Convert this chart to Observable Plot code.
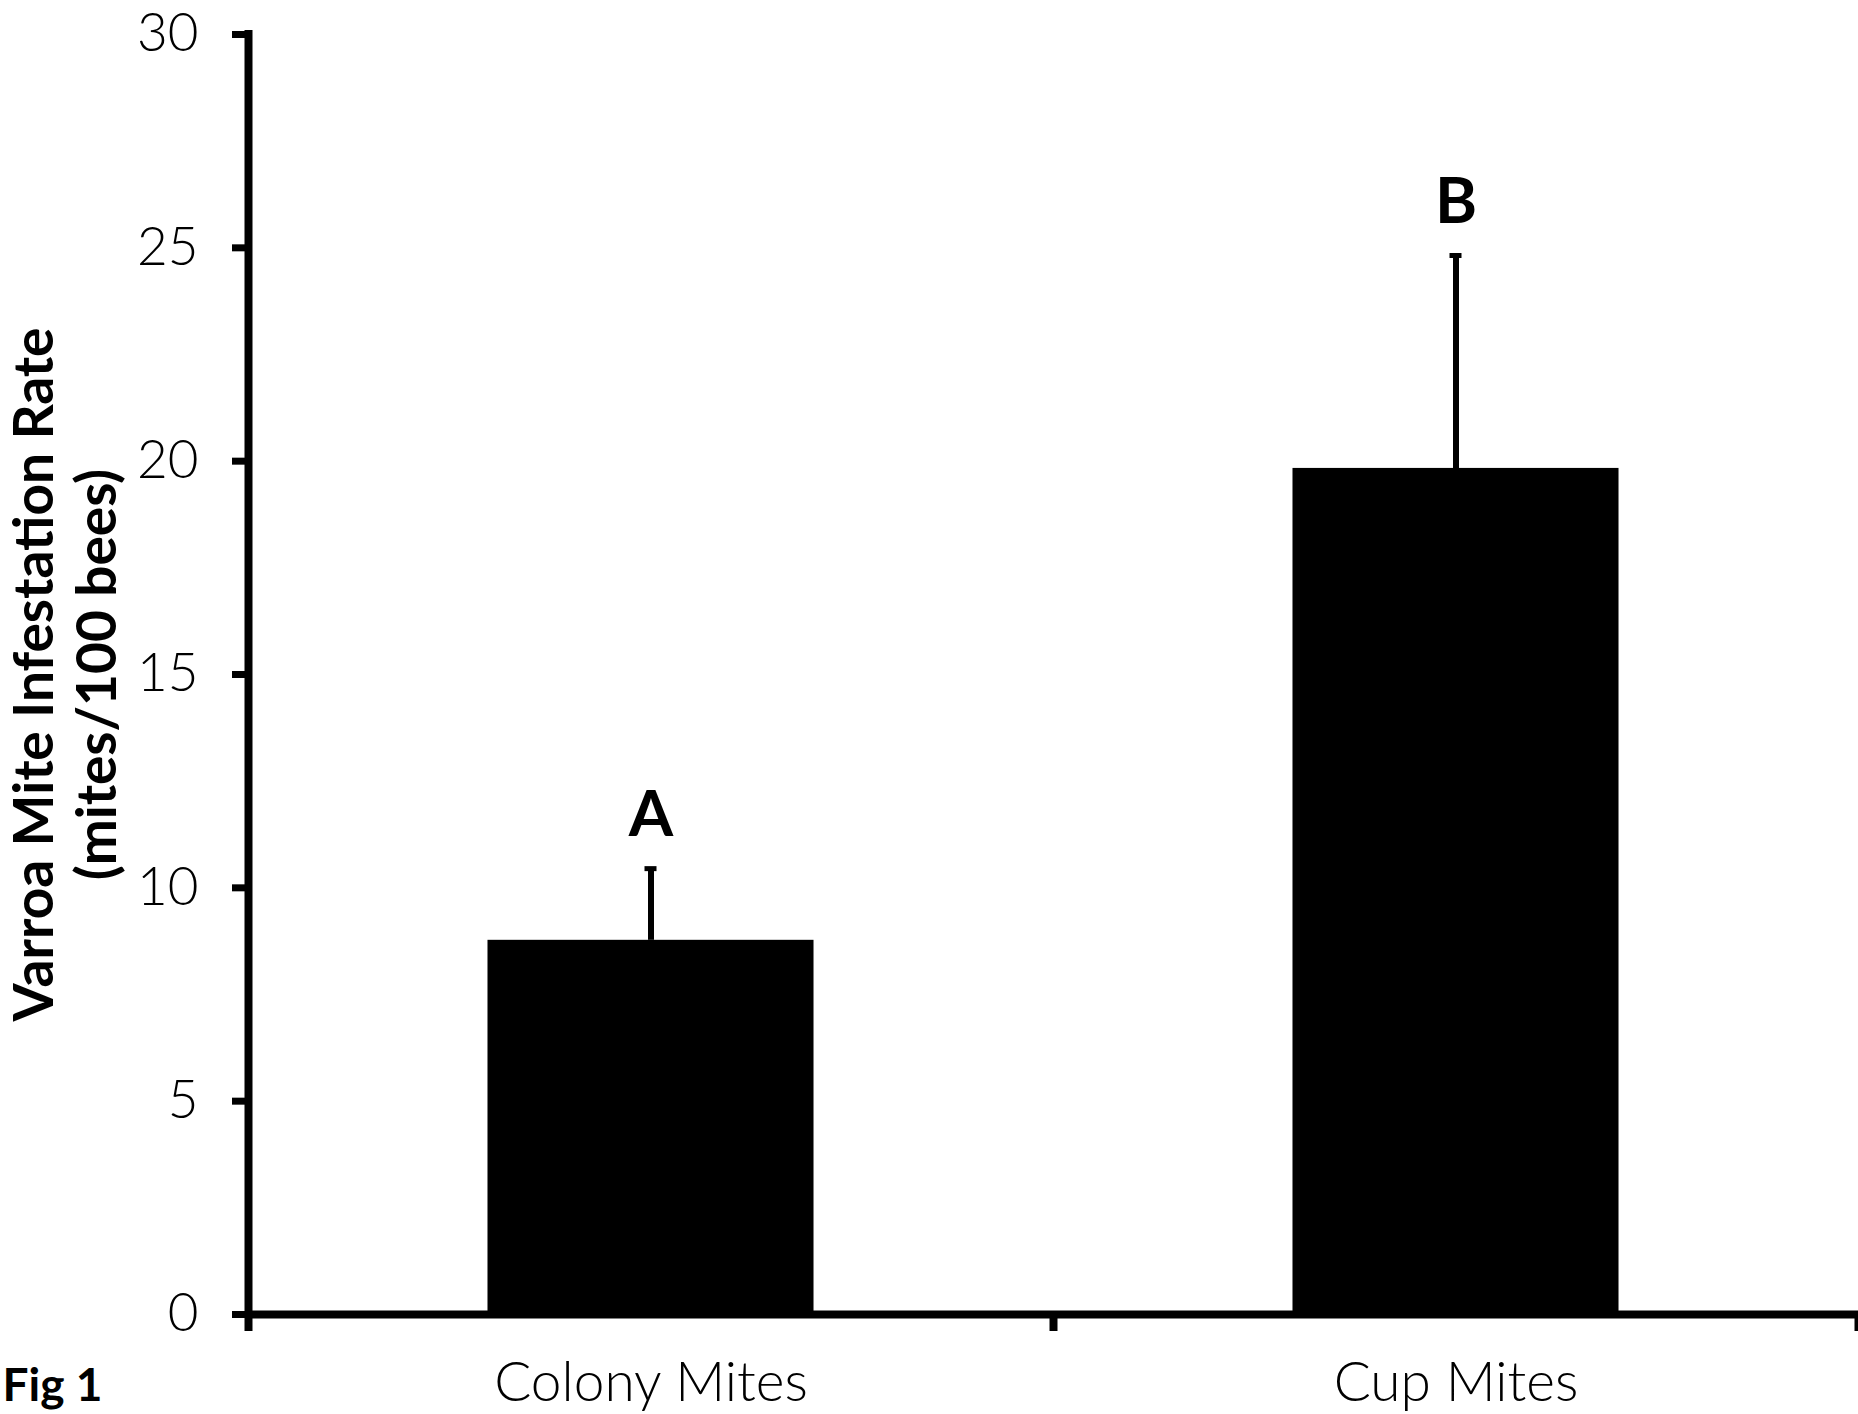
<!DOCTYPE html>
<html>
<head>
<meta charset="utf-8">
<script src="https://cdn.jsdelivr.net/npm/d3@7"></script>
<script src="https://cdn.jsdelivr.net/npm/@observablehq/plot@0.6"></script>
<style>
  html, body { margin: 0; padding: 0; background: #fff; }
  #chart svg { display: block; }
</style>
</head>
<body>
<div id="chart"></div>
<script>
// Mean Varroa infestation (mites per 100 bees) with standard error
const categories = ["Colony Mites", "Cup Mites"];
const means = [8.77, 19.83];
const errors = [1.68, 4.99];
const letters = ["A", "B"];
const yTicks = [0, 5, 10, 15, 20, 25, 30];
const yTitle = ["Varroa Mite Infestation Rate", "(mites/100 bees)"];
const figLabel = "Fig 1";

// Each category owns one unit slot on x; the bar fills this share of it
const barFraction = 0.405;

const rows = categories.map((name, i) => ({
  name,
  slot: i,
  mid: i + 0.5,
  mean: means[i],
  upper: means[i] + errors[i],
  letter: letters[i]
}));

const font = '"Century Gothic", "URW Gothic", Lato, sans-serif';

const chart = Plot.plot({
  width: 1858,
  height: 1414,
  marginTop: 34,
  marginBottom: 100,
  marginLeft: 248,
  marginRight: 0,
  style: { fontFamily: font, background: "#fff", color: "#000" },
  x: { domain: [0, categories.length], axis: null },
  y: { domain: [0, 30], axis: null },
  marks: [
    // bars
    Plot.rectY(rows, {
      x1: d => d.slot + (1 - barFraction) / 2,
      x2: d => d.slot + (1 + barFraction) / 2,
      y1: 0,
      y2: "mean",
      fill: "#000"
    }),
    // upper error bars with caps
    Plot.ruleX(rows, { x: "mid", y1: "mean", y2: "upper", stroke: "#000", strokeWidth: 6 }),
    Plot.ruleY(rows, { y: "upper", x1: "mid", x2: "mid", insetLeft: -6, insetRight: -6, stroke: "#000", strokeWidth: 5 }),
    // significance letters
    Plot.text(rows, {
      x: "mid", y: "upper", text: "letter",
      lineAnchor: "bottom", dy: -33,
      fontSize: 64, fontWeight: 700, fill: "#000"
    }),
    // y axis
    Plot.axisY({
      ticks: yTicks, tickSize: 16, tickPadding: 34, strokeWidth: 7,
      fontSize: 53, fontWeight: 300, label: null
    }),
    // category boundary ticks
    Plot.axisX({
      ticks: d3.range(categories.length + 1), tickSize: 17, strokeWidth: 8,
      tickFormat: () => "", label: null
    }),
    // category names
    Plot.axisX({
      ticks: rows.map(d => d.mid), tickSize: 0, tickPadding: 47,
      tickFormat: v => categories[Math.floor(v)],
      fontSize: 55, fontWeight: 300, label: null
    }),
    // axis lines
    Plot.ruleX([0], { stroke: "#000", strokeWidth: 8, strokeLinecap: "square" }),
    Plot.ruleY([0], { stroke: "#000", strokeWidth: 8 }),
    // y title, two lines
    Plot.text([yTitle.join("\n")], {
      frameAnchor: "left", text: d => d, rotate: -90,
      dx: -184, textAnchor: "middle", lineAnchor: "middle", lineHeight: 1.15,
      fontSize: 55, fontWeight: 700, fill: "#000"
    }),
    // figure number
    Plot.text([figLabel], {
      frameAnchor: "bottom-left", text: d => d,
      textAnchor: "start", lineAnchor: "bottom", dx: -246, dy: 86,
      fontSize: 46, fontWeight: 700, fill: "#000"
    })
  ]
});

document.getElementById("chart").appendChild(chart);
</script>
</body>
</html>
